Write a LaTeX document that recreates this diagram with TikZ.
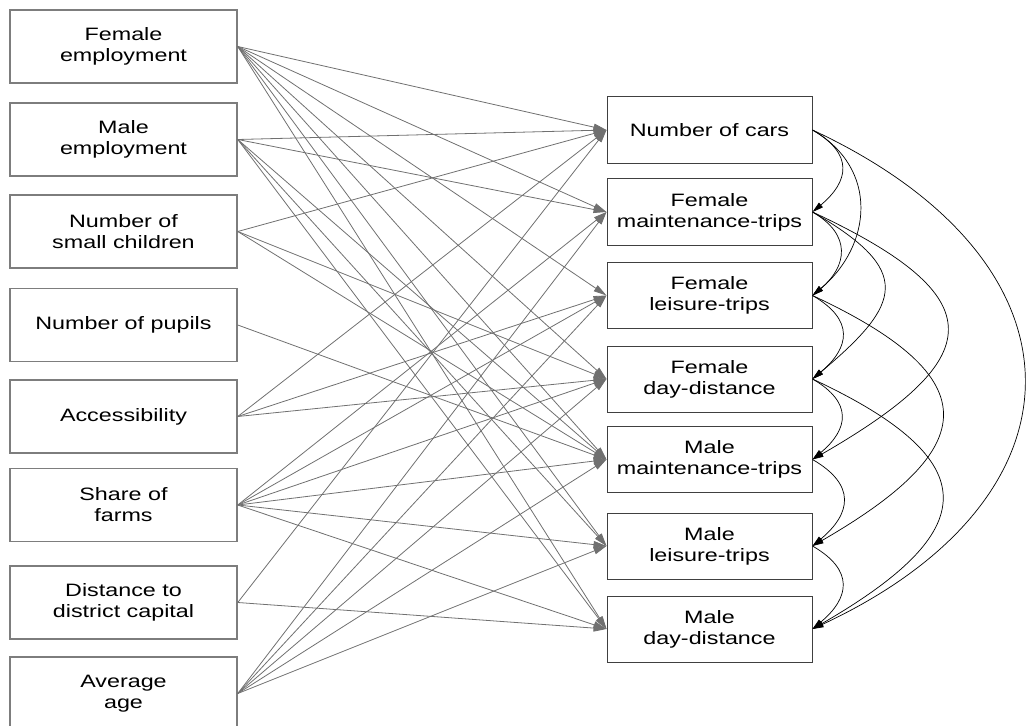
\documentclass[tikz,border=0pt]{standalone}
\usepackage{fontspec}
\setmainfont{Liberation Sans}[FakeStretch=1.3]
\usetikzlibrary{arrows.meta,positioning}
\definecolor{boxgray}{RGB}{125,125,125}
\definecolor{pathgray}{RGB}{112,112,112}

\begin{document}
\begin{tikzpicture}[x=1bp,y=-1bp,
    exo/.style={draw=boxgray,line width=1.5bp,minimum width=227bp,minimum height=73bp,
                align=center,inner sep=0pt,font=\fontsize{18}{21}\selectfont},
    endo/.style={draw=black!75,line width=1bp,minimum width=205bp,minimum height=66bp,
                 align=center,inner sep=0pt,font=\fontsize{18}{21}\selectfont},
    effect/.style={draw=pathgray,line width=0.8bp,-{Triangle[length=13bp,width=7bp]}},
    link/.style={draw=black,line width=0.7bp,-{Triangle[length=11bp,width=6bp]}}]
\useasboundingbox (0,0) rectangle (1029,726);

% exogenous variables
\node[exo] (fe) at (123.5,46.5) {Female\\employment};
\node[exo] (me) at (123.5,139.5) {Male\\employment};
\node[exo] (sc) at (123.5,231.5) {Number of\\small children};
\node[exo] (pu) at (123.5,325) {Number of pupils};
\node[exo] (ac) at (123.5,416.5) {Accessibility};
\node[exo] (sf) at (123.5,505) {Share of\\farms};
\node[exo] (dc) at (123.5,602.5) {Distance to\\district capital};
\node[exo] (ag) at (123.5,693.5) {Average\\age};

% endogenous variables
\node[endo] (cars) at (709.5,130) {Number of cars};
\node[endo] (fmt) at (709.5,212) {Female\\maintenance-trips};
\node[endo] (flt) at (709.5,295.5) {Female\\leisure-trips};
\node[endo] (fdd) at (709.5,379) {Female\\day-distance};
\node[endo] (mmt) at (709.5,459.5) {Male\\maintenance-trips};
\node[endo] (mlt) at (709.5,546) {Male\\leisure-trips};
\node[endo] (mdd) at (709.5,629) {Male\\day-distance};

% direct effects
\foreach \s/\t in {fe/cars,fe/fmt,fe/flt,fe/fdd,fe/mmt,fe/mlt,fe/mdd,
                   me/cars,me/fmt,me/mmt,me/mlt,me/mdd,
                   sc/cars,sc/fdd,sc/mmt,
                   pu/mmt,
                   ac/cars,ac/flt,ac/fdd,
                   sf/fmt,sf/flt,sf/fdd,sf/mmt,sf/mlt,sf/mdd,
                   dc/cars,dc/mdd,
                   ag/fmt,ag/flt,ag/fdd,ag/mmt,ag/mlt}
  \draw[effect] (\s.east) -- (\t.west);

% links between the trip variables
\draw[link] (cars.east) to[out=-30,in=40,looseness=1.5] (fmt.east);
\draw[link] (cars.east) to[out=-30,in=40,looseness=1.2] (flt.east);
\draw[link] (cars.east) to[out=-25,in=25,looseness=1.6] (mdd.east);
\draw[link] (fmt.east) to[out=-30,in=40,looseness=1.4] (flt.east);
\draw[link] (fmt.east) to[out=-30,in=40,looseness=1.8] (fdd.east);
\draw[link] (fmt.east) to[out=-25,in=30,looseness=2.1] (mmt.east);
\draw[link] (flt.east) to[out=-30,in=40,looseness=1.5] (fdd.east);
\draw[link] (flt.east) to[out=-25,in=30,looseness=2.0] (mlt.east);
\draw[link] (fdd.east) to[out=-30,in=40,looseness=1.5] (mmt.east);
\draw[link] (fdd.east) to[out=-25,in=30,looseness=2.0] (mdd.east);
\draw[link] (mmt.east) to[out=-30,in=40,looseness=1.5] (mlt.east);
\draw[link] (mlt.east) to[out=-30,in=40,looseness=1.5] (mdd.east);
\end{tikzpicture}
\end{document}
